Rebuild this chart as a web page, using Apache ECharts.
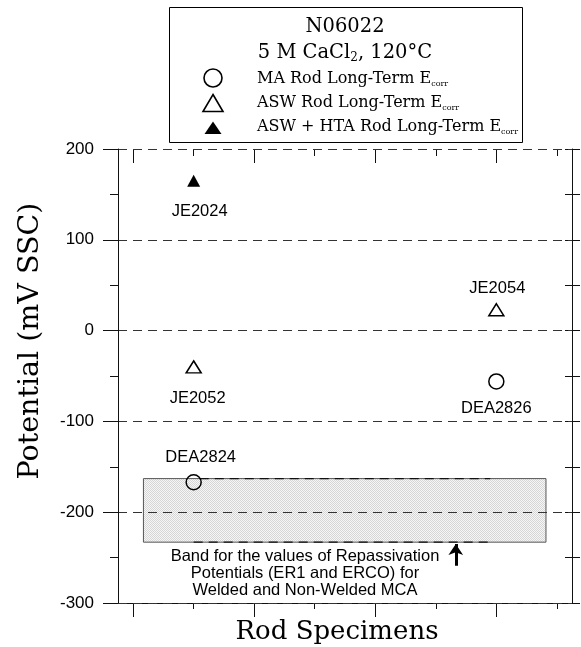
<!DOCTYPE html>
<html>
<head>
<meta charset="utf-8">
<script src="https://cdn.jsdelivr.net/npm/echarts@6/dist/echarts.min.js"></script>
<style>
  html, body { margin: 0; padding: 0; background: #fff; }
  #chart { width: 581px; height: 647px; }
</style>
</head>
<body>
<div id="chart"></div>
<script>
// Long-term corrosion potentials (mV SSC) of N06022 rods, by specimen position
const maSpecimens = ['DEA2824', 'DEA2826'];
const maPositions = [1, 6];
const maEcorr = [-167, -56];

const aswSpecimens = ['JE2052', 'JE2054'];
const aswPositions = [1, 6];
const aswEcorr = [-40, 23];

const htaSpecimens = ['JE2024'];
const htaPositions = [1];
const htaEcorr = [165];

// Repassivation potential band (ER1 and ERCO), welded and non-welded MCA
const bandPotential = [-233, -163];
const bandPositions = [0.17, 6.82];
const er1Positions = [1.1, 5.9];
const ercoPositions = [1.0, 5.9];
const arrowPosition = 5.33;
const arrowPotential = [-259, -235];

// Axis ticks
const yTicks = [-300, -200, -100, 0, 100, 200];
const xMajorTicks = [0, 2, 4, 6];
const xMinorTicks = [1, 3, 5, 7];

// Label placement for each specimen (offset from its marker)
const labelOffset = {
  JE2024: [6, 31], JE2052: [4, 32], DEA2824: [7, -25],
  JE2054: [1, -21], DEA2826: [0, 27]
};

const SANS = '"Liberation Sans", Arial, sans-serif';
const SERIF = '"DejaVu Serif", serif';

function points(names, xs, ys) {
  return names.map((n, i) => ({
    name: n,
    value: [xs[i], ys[i]],
    label: {
      show: true, formatter: n, position: 'inside',
      offset: labelOffset[n], color: '#000',
      textBorderWidth: 0, textBorderColor: 'transparent',
      fontFamily: SANS, fontSize: 16.5
    }
  }));
}

// stippled grey fill for the band
const pat = document.createElement('canvas');
pat.width = 2; pat.height = 2;
const pc = pat.getContext('2d');
pc.fillStyle = '#f6f6f6'; pc.fillRect(0, 0, 2, 2);
pc.fillStyle = '#d6d6d6'; pc.fillRect(0, 0, 1, 1); pc.fillRect(1, 1, 1, 1);

const chart = echarts.init(document.getElementById('chart'), null, { renderer: 'canvas' });

const xBase = {
  type: 'value', min: -0.25, max: 7.25,
  splitLine: { show: false }, axisLabel: { show: false },
  axisLine: { show: false, onZero: false }
};
const yBase = {
  type: 'value', min: yTicks[0], max: yTicks[yTicks.length - 1],
  axisLabel: { show: false }, splitLine: { show: false },
  axisLine: { show: false, onZero: false }
};
const tickStyle = { color: '#111', width: 1 };

const option = {
  animation: false,
  backgroundColor: '#fff',
  grid: { left: 118, right: 9, top: 149, bottom: 44 },
  xAxis: [
    Object.assign({}, xBase, {
      position: 'bottom',
      axisLine: { show: true, onZero: false, lineStyle: { color: '#111', width: 1 } },
      axisTick: { show: true, customValues: xMajorTicks, length: 14, lineStyle: tickStyle }
    }),
    Object.assign({}, xBase, {
      position: 'bottom',
      axisTick: { show: true, customValues: xMinorTicks, length: 6, lineStyle: tickStyle }
    }),
    Object.assign({}, xBase, {
      position: 'top',
      axisTick: { show: true, inside: true, customValues: xMajorTicks, length: 14, lineStyle: tickStyle }
    }),
    Object.assign({}, xBase, {
      position: 'top',
      axisTick: { show: true, inside: true, customValues: xMinorTicks, length: 7, lineStyle: tickStyle }
    })
  ],
  yAxis: [
    Object.assign({}, yBase, {
      position: 'left', interval: 100, z: 3,
      axisLine: { show: true, onZero: false, lineStyle: { color: '#111', width: 1 } },
      axisTick: { show: true, length: 15, lineStyle: tickStyle },
      minorTick: { show: true, splitNumber: 2, length: 8, lineStyle: tickStyle },
      splitLine: { show: true, lineStyle: { color: '#333', width: 1, type: [9, 6] } },
      axisLabel: { show: true, margin: 24, color: '#000', fontFamily: SANS, fontSize: 17 }
    }),
    Object.assign({}, yBase, {
      position: 'left', interval: 100,
      axisTick: { show: true, inside: true, length: 7, lineStyle: tickStyle }
    }),
    Object.assign({}, yBase, {
      position: 'right', interval: 50,
      axisLine: { show: true, onZero: false, lineStyle: { color: '#111', width: 1 } },
      axisTick: { show: true, length: 8, lineStyle: tickStyle }
    }),
    Object.assign({}, yBase, {
      position: 'right', interval: 50,
      axisTick: { show: true, inside: true, length: 7, lineStyle: tickStyle }
    })
  ],
  series: [
    {
      type: 'custom', z: 1, silent: true,
      data: [[bandPositions[0], bandPotential[0], bandPositions[1], bandPotential[1]]],
      renderItem: function (params, api) {
        const p0 = api.coord([api.value(0), api.value(3)]);
        const p1 = api.coord([api.value(2), api.value(1)]);
        return {
          type: 'rect',
          shape: { x: p0[0], y: p0[1], width: p1[0] - p0[0], height: p1[1] - p0[1] },
          style: { fill: { image: pat, repeat: 'repeat' }, stroke: '#555', lineWidth: 1 }
        };
      }
    },
    {
      type: 'line', z: 4, symbol: 'none', silent: true,
      data: er1Positions.map(x => [x, bandPotential[1]]),
      lineStyle: { color: '#111', width: 1.2, type: [9, 6] }
    },
    {
      type: 'line', z: 4, symbol: 'none', silent: true,
      data: ercoPositions.map(x => [x, bandPotential[0]]),
      lineStyle: { color: '#111', width: 1.2, type: [9, 6] }
    },
    {
      type: 'lines', coordinateSystem: 'cartesian2d', z: 4, silent: true,
      symbol: ['none', 'arrow'], symbolSize: [0, 11],
      lineStyle: { color: '#000', width: 3, opacity: 1 },
      data: [{ coords: [[arrowPosition, arrowPotential[0]], [arrowPosition, arrowPotential[1]]] }]
    },
    {
      type: 'scatter', z: 5, name: 'MA Rod Long-Term Ecorr',
      symbol: 'circle', symbolSize: 15,
      itemStyle: { color: 'rgba(255,255,255,0)', borderColor: '#000', borderWidth: 1.5, opacity: 1 },
      data: points(maSpecimens, maPositions, maEcorr)
    },
    {
      type: 'scatter', z: 5, name: 'ASW Rod Long-Term Ecorr',
      symbol: 'triangle', symbolSize: [15, 12],
      itemStyle: { color: '#fff', borderColor: '#000', borderWidth: 1.5, opacity: 1 },
      data: points(aswSpecimens, aswPositions, aswEcorr)
    },
    {
      type: 'scatter', z: 5, name: 'ASW + HTA Rod Long-Term Ecorr',
      symbol: 'triangle', symbolSize: [13, 12],
      itemStyle: { color: '#000', opacity: 1 },
      data: points(htaSpecimens, htaPositions, htaEcorr)
    }
  ],
  graphic: [
    // axis titles
    {
      type: 'text', x: 31, y: 341, rotation: Math.PI / 2,
      style: { text: 'Potential (mV SSC)', fontFamily: SERIF, fontSize: 28.5, fill: '#000', align: 'center', verticalAlign: 'middle' }
    },
    {
      type: 'text', x: 337, y: 632,
      style: { text: 'Rod Specimens', fontFamily: SERIF, fontSize: 26, fill: '#000', align: 'center', verticalAlign: 'middle' }
    },
    // band caption
    {
      type: 'text', x: 305, y: 573, z: 10,
      style: {
        text: 'Band for the values of Repassivation\nPotentials (ER1 and ERCO) for\nWelded and Non-Welded MCA',
        fontFamily: SANS, fontSize: 16.5, lineHeight: 17, fill: '#000', align: 'center', verticalAlign: 'middle'
      }
    },
    // legend box
    {
      type: 'rect', left: 169, top: 7,
      shape: { width: 353, height: 135 },
      style: { fill: '#fff', stroke: '#000', lineWidth: 1 }
    },
    {
      type: 'text', x: 345, y: 27,
      style: { text: 'N06022', fontFamily: SERIF, fontSize: 19.5, fill: '#000', align: 'center', verticalAlign: 'middle' }
    },
    {
      type: 'text', x: 345, y: 53,
      style: {
        text: '{m|5 M CaCl}{s|2}{m|, 120°C}', align: 'center', verticalAlign: 'middle',
        rich: {
          m: { fontFamily: SERIF, fontSize: 19.5, lineHeight: 22, fill: '#000', verticalAlign: 'middle' },
          s: { fontFamily: SERIF, fontSize: 12, lineHeight: 12, fill: '#000', verticalAlign: 'bottom' }
        }
      }
    },
    {
      type: 'circle', shape: { cx: 213, cy: 78, r: 9 },
      style: { fill: '#fff', stroke: '#000', lineWidth: 1.6 }
    },
    {
      type: 'polygon', shape: { points: [[213, 94.5], [223, 111.5], [203, 111.5]] },
      style: { fill: '#fff', stroke: '#000', lineWidth: 1.6 }
    },
    {
      type: 'polygon', shape: { points: [[213, 121.5], [221.5, 134], [204.5, 134]] },
      style: { fill: '#000' }
    }
  ].concat(['MA Rod Long-Term E', 'ASW Rod Long-Term E', 'ASW + HTA Rod Long-Term E'].map((t, i) => ({
    type: 'text', x: 257, y: [79, 103, 127][i],
    style: {
      text: '{m|' + t + '}{s|corr}', align: 'left', verticalAlign: 'middle',
      rich: {
        m: { fontFamily: SERIF, fontSize: 16, lineHeight: 18, fill: '#000', verticalAlign: 'middle' },
        s: { fontFamily: SERIF, fontSize: 8, lineHeight: 8, fill: '#000', verticalAlign: 'bottom' }
      }
    }
  })))
};

chart.setOption(option);
</script>
</body>
</html>
